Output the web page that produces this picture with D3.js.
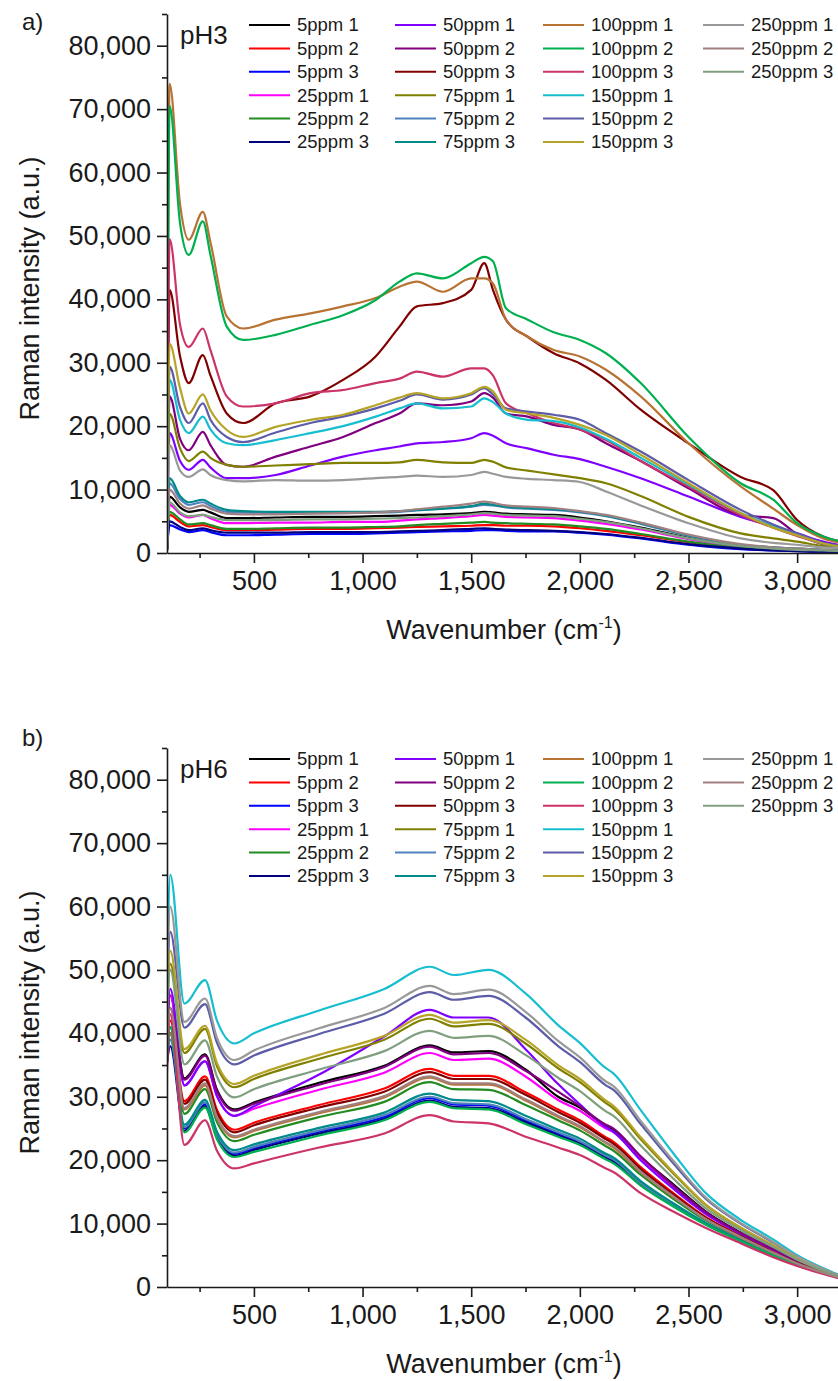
<!DOCTYPE html>
<html>
<head>
<meta charset="utf-8">
<script src="https://cdn.jsdelivr.net/npm/d3@7"></script>
<style>
  body { margin: 0; background: #fff; }
  svg text { font-family: "Liberation Sans", Arial, sans-serif; fill: #1a1a1a; }
</style>
</head>
<body>
<svg id="chart" width="838" height="1381"></svg>
<script>
// series names, in legend order (column by column)
var seriesNames = [
	"5ppm 1", "5ppm 2", "5ppm 3", "25ppm 1", "25ppm 2", "25ppm 3",
	"50ppm 1", "50ppm 2", "50ppm 3", "75ppm 1", "75ppm 2", "75ppm 3",
	"100ppm 1", "100ppm 2", "100ppm 3", "150ppm 1", "150ppm 2", "150ppm 3",
	"250ppm 1", "250ppm 2", "250ppm 3"
];
var seriesColors = [
	"#000000", "#ff0000", "#0000ff", "#ff00ff", "#228b22", "#000080",
	"#8000ff", "#800080", "#800000", "#808000", "#4f81bd", "#008b8b",
	"#b87333", "#00b050", "#cc3366", "#17becf", "#5c5ca8", "#b5a428",
	"#999999", "#a08080", "#7f9f7f"
];

// wavenumber (cm-1) sample points
var wavenumbersA = [100, 112, 160, 200, 265, 300, 375, 450, 600, 760, 910, 1060, 1170, 1250, 1370,
	1500, 1560, 1600, 1660, 1760, 1880, 2000, 2120, 2280, 2500, 2740, 2890, 3000, 3120, 3200];
var wavenumbersB = [100, 115, 180, 275, 330, 410, 500, 800, 1100, 1310, 1420, 1580, 1750, 1900,
	2000, 2120, 2150, 2280, 2430, 2580, 2740, 2890, 3000, 3200];

// Raman intensity, in thousands a.u. (pH3)
var intensityPH3 = [
	[0.5, 8.9, 7.2, 6.5, 6.8, 6.4, 5.5, 5.5, 5.6, 5.7, 5.7, 5.8, 5.9, 6, 6.1, 6.3, 6.5, 6.4, 6.2, 6.1, 6, 5.6, 5, 4, 2.4, 1.1, 0.7, 0.5, 0.4, 0.3],
	[0.5, 6, 4.9, 4.2, 4.4, 4.1, 3.6, 3.6, 3.7, 3.8, 3.8, 3.9, 4, 4.1, 4.2, 4.3, 4.4, 4.4, 4.3, 4.3, 4.2, 3.9, 3.5, 2.8, 1.7, 0.8, 0.5, 0.4, 0.3, 0.2],
	[0.5, 4.4, 3.7, 3.3, 3.6, 3.3, 2.8, 2.8, 2.9, 3, 3, 3.1, 3.2, 3.3, 3.4, 3.5, 3.6, 3.6, 3.5, 3.4, 3.4, 3.2, 2.9, 2.3, 1.3, 0.6, 0.4, 0.3, 0.2, 0.2],
	[0.5, 7.6, 6.2, 5.6, 6, 5.5, 4.7, 4.7, 4.8, 4.8, 4.9, 4.9, 5.1, 5.3, 5.5, 5.8, 6, 5.9, 5.7, 5.6, 5.5, 5.1, 4.6, 3.7, 2.2, 1, 0.7, 0.5, 0.4, 0.3],
	[0.5, 6.5, 5.3, 4.5, 4.7, 4.4, 3.8, 3.8, 3.9, 4, 4, 4.1, 4.2, 4.4, 4.6, 4.8, 4.9, 4.8, 4.7, 4.6, 4.5, 4.2, 3.8, 3, 1.8, 0.8, 0.5, 0.4, 0.3, 0.2],
	[0.5, 5, 4.1, 3.6, 3.9, 3.6, 3.2, 3.2, 3.2, 3.3, 3.3, 3.3, 3.4, 3.5, 3.6, 3.8, 3.9, 3.8, 3.7, 3.6, 3.5, 3.3, 3, 2.4, 1.4, 0.7, 0.4, 0.3, 0.2, 0.2],
	[1, 18.9, 14.5, 13.1, 14.7, 13.5, 11.8, 11.8, 12.3, 13.8, 15.2, 16.2, 16.8, 17.3, 17.5, 18.1, 18.9, 18.5, 17.3, 16.5, 15.5, 14.8, 13.6, 11.8, 8.9, 5.7, 4.2, 3.1, 1.8, 1.2],
	[1, 24.7, 18, 16.2, 19.1, 17, 13.9, 13.6, 15.2, 16.8, 18.3, 20.5, 22, 23.6, 23.3, 23.9, 25.2, 24.5, 22, 21.5, 20.2, 19.5, 17.3, 14.5, 10.2, 6, 5.5, 3, 1.4, 1],
	[1, 41.5, 31, 26.8, 31.2, 28, 22, 20.5, 23.6, 24.7, 27.3, 31, 35.7, 38.9, 39.4, 41.5, 45.7, 41.5, 36.8, 34.1, 31.5, 29.9, 27.3, 22.6, 17.3, 12, 9.9, 5.2, 2.6, 1.8],
	[1, 22, 16.5, 14.5, 16, 15, 13.9, 13.6, 13.8, 14, 14.2, 14.2, 14.3, 14.7, 14.3, 14.2, 14.7, 14.4, 13.5, 13, 12.4, 11.8, 11, 9, 5.7, 3.1, 2.3, 1.8, 1.1, 0.9],
	[0.5, 11, 8.5, 7.6, 8, 7.4, 6.5, 6.4, 6.3, 6.3, 6.3, 6.4, 6.5, 6.7, 7, 7.3, 7.6, 7.5, 7.2, 7, 6.8, 6.4, 5.8, 4.6, 2.7, 1.3, 0.9, 0.7, 0.5, 0.4],
	[0.5, 11.8, 9, 8, 8.4, 7.8, 6.8, 6.6, 6.5, 6.5, 6.5, 6.5, 6.6, 6.8, 7, 7.4, 7.8, 7.6, 7.3, 7.1, 6.9, 6.5, 5.9, 4.7, 2.8, 1.3, 0.9, 0.7, 0.5, 0.4],
	[3, 74, 55, 49.4, 53.8, 49, 37.3, 35.4, 36.8, 37.8, 38.9, 40.2, 42, 42.8, 41.2, 43.3, 43.3, 42.5, 36.8, 34.1, 32, 31, 28.9, 24.7, 17.3, 10.5, 7, 4.4, 2.3, 1.6],
	[3, 70.5, 52, 47, 52.3, 47, 35.7, 33.6, 34.4, 36, 37.5, 39.9, 42.8, 44.1, 43.3, 45.7, 46.7, 46, 38.6, 36.8, 34.8, 33.6, 31.5, 26.8, 18.3, 11, 8.4, 4.7, 2.6, 1.8],
	[2, 49.5, 36, 32.5, 35.4, 32, 24.7, 23.1, 23.6, 25.2, 25.7, 26.8, 27.5, 28.6, 27.8, 29.1, 29.1, 28, 23.6, 22, 20.5, 19.5, 17.8, 14.5, 10.5, 6, 4, 2.7, 1.5, 1.1],
	[2, 27.3, 21, 18.9, 21.5, 19.5, 17.3, 17, 17.8, 18.9, 20, 21.5, 22.8, 23.6, 22.8, 23.1, 24.4, 23.8, 22, 21, 20.8, 19.8, 18, 15, 10.8, 6.3, 4.2, 2.9, 1.5, 1],
	[2, 29.4, 23, 20.5, 23.6, 21, 18.3, 17.5, 19, 20.5, 21.5, 22.8, 24, 25, 24.2, 25, 26, 25, 22.8, 22.3, 21.8, 21, 18.9, 16, 11.5, 6.8, 4.5, 3.1, 1.6, 1.1],
	[2, 33, 26, 22, 25, 22.5, 19.4, 18.3, 19.9, 21, 21.8, 23.3, 24.5, 25.2, 24.4, 25.2, 26.2, 25.5, 22.6, 22, 21.3, 20.2, 18.6, 15.5, 11, 6.3, 4, 2.8, 1.5, 1],
	[1, 17, 13, 12, 13.2, 12.3, 11.5, 11.3, 11.5, 11.4, 11.5, 11.8, 12, 12.2, 12, 12.3, 12.8, 12.5, 12, 11.7, 11.5, 11.2, 9.7, 7.5, 4.7, 2.3, 1.6, 1.3, 0.9, 0.8],
	[0.5, 10, 7.8, 7, 7.5, 7, 6.2, 6.1, 6.1, 6.2, 6.3, 6.4, 6.6, 6.9, 7.3, 7.8, 8.1, 7.9, 7.5, 7.3, 7.1, 6.6, 6, 4.8, 2.9, 1.4, 0.9, 0.7, 0.5, 0.4],
	[0.5, 8, 6.4, 5.8, 6, 5.7, 5.2, 5.2, 5.2, 5.3, 5.3, 5.4, 5.5, 5.6, 5.8, 6.1, 6.3, 6.2, 6, 5.9, 5.8, 5.4, 4.9, 3.9, 2.3, 1.1, 0.7, 0.5, 0.4, 0.3]
];

// Raman intensity, in thousands a.u. (pH6)
var intensityPH6 = [
	[40.6, 46, 32.9, 36.7, 31.1, 28, 29.1, 32.2, 34.9, 38.1, 37, 37.2, 34.3, 30, 28.3, 25.4, 24.9, 20.5, 16.2, 11.9, 8.6, 6, 4.1, 1.5],
	[38.3, 42, 29.3, 33.2, 27.9, 24.8, 25.9, 28.7, 31.3, 34.4, 33.3, 33.3, 30.7, 28, 26.3, 23.6, 23, 18.9, 14.8, 11, 8.1, 5.6, 3.8, 1.5],
	[35.6, 40, 25, 28.8, 23.9, 21, 21.9, 24.5, 26.8, 29.8, 28.8, 28.6, 26.3, 24.2, 22.8, 20.5, 20, 16.3, 13, 9.9, 7.3, 5, 3.5, 1.4],
	[39.9, 46, 31.8, 35.6, 30.1, 27, 28.1, 31.1, 33.8, 36.9, 35.8, 36, 33.2, 29.5, 27.8, 25, 24.5, 20.3, 15.8, 11.6, 8.5, 5.9, 4, 1.5],
	[37.1, 41, 27.3, 31.2, 26, 23, 24, 26.8, 29.2, 32.3, 31.2, 31.1, 28.7, 26.3, 24.7, 22.2, 21.6, 17.7, 13.9, 10.5, 7.7, 5.3, 3.7, 1.4],
	[35.4, 38, 24.6, 28.5, 23.6, 20.7, 21.6, 24.2, 26.5, 29.4, 28.4, 28.2, 26, 23.9, 22.6, 20.3, 19.8, 16.1, 12.8, 9.9, 7.3, 5, 3.5, 1.4],
	[40, 47, 31.8, 35.6, 30.1, 27, 28.5, 33.5, 39.5, 43.7, 42.5, 42.5, 37.5, 32, 28.8, 25.2, 24.6, 20, 15.5, 11.5, 8.4, 5.9, 4, 1.5],
	[40.4, 44, 32.7, 36.5, 30.9, 27.8, 28.9, 31.9, 34.7, 37.9, 36.7, 36.9, 34.1, 30.8, 28.5, 25.6, 25.1, 20.6, 16, 11.8, 8.5, 6, 4.1, 1.5],
	[38.1, 41, 28.9, 32.7, 27.5, 24.4, 25.5, 28.3, 30.8, 33.9, 32.8, 32.8, 30.3, 27.6, 25.9, 23.3, 22.7, 18.6, 14.6, 10.9, 8, 5.5, 3.8, 1.5],
	[43.1, 51, 36.9, 40.7, 34.8, 31.5, 32.8, 36, 39, 42.3, 41.1, 41.5, 38.4, 34.5, 32.3, 29, 28.3, 23.3, 17.9, 12.9, 9.3, 6.5, 4.4, 1.6],
	[35.8, 39, 25.2, 29.1, 24.1, 21.2, 22.1, 24.7, 27.1, 30, 29, 28.8, 26.5, 24.4, 23, 20.7, 20.2, 16.4, 13, 10, 7.4, 5.1, 3.5, 1.4],
	[36, 40, 25.6, 29.5, 24.5, 21.6, 22.5, 25.1, 27.5, 30.5, 29.5, 29.3, 27, 24.8, 23.4, 21, 20.5, 16.7, 13.2, 10.1, 7.4, 5.1, 3.6, 1.4],
	[37.5, 40, 28, 31.8, 26.6, 23.6, 24.6, 27.4, 29.9, 33, 31.9, 31.9, 29.4, 26.8, 25.2, 22.7, 22.1, 18.1, 14.2, 10.7, 7.8, 5.4, 3.7, 1.4],
	[35.3, 41, 24.4, 28.3, 23.3, 20.5, 21.3, 23.9, 26.3, 29.2, 28.2, 28, 25.7, 23.7, 22.4, 20.1, 19.6, 16, 12.7, 9.8, 7.2, 5, 3.5, 1.4],
	[34, 43, 22.4, 26.3, 21.5, 18.7, 19.5, 22, 24.2, 27.1, 26.1, 25.8, 23.7, 22, 20.8, 18.7, 18.2, 14.8, 11.9, 9.3, 6.9, 4.7, 3.3, 1.3],
	[48, 65, 44.7, 48.4, 42, 38.4, 40, 43.6, 47, 50.5, 49.2, 50, 46.3, 41.3, 38.5, 34.5, 33.8, 27.9, 21.1, 14.8, 10.6, 7.5, 5, 1.8],
	[45.6, 56, 40.9, 44.6, 38.5, 35.1, 36.5, 39.9, 43.1, 46.5, 45.3, 45.9, 42.5, 38, 35.5, 31.8, 31.2, 25.7, 19.5, 13.9, 10, 7, 4.7, 1.7],
	[43.5, 53, 37.5, 41.2, 35.3, 32, 33.3, 36.6, 39.6, 42.9, 41.7, 42.1, 39, 35, 32.8, 29.4, 28.7, 23.6, 18.1, 13, 9.4, 6.6, 4.5, 1.6],
	[46.2, 60, 41.8, 45.5, 39.3, 35.8, 37.3, 40.8, 44, 47.5, 46.2, 46.9, 43.4, 38.8, 36.2, 32.4, 31.8, 26.2, 19.9, 14.1, 10.1, 7.1, 4.8, 1.7],
	[37.6, 44, 28.2, 32.1, 26.8, 23.8, 24.8, 27.6, 30.1, 33.2, 32.1, 32.1, 29.6, 27, 25.4, 22.8, 22.3, 18.2, 14.3, 10.7, 7.9, 5.4, 3.7, 1.4],
	[42, 50, 35.1, 38.9, 33.2, 29.9, 31.2, 34.3, 37.2, 40.4, 39.3, 39.6, 36.6, 33, 30.9, 27.7, 27.1, 22.3, 17.1, 12.4, 9, 6.3, 4.3, 1.6]
];

var xMajorTicks = [500, 1000, 1500, 2000, 2500, 3000];
var xMinorTicks = [250, 750, 1250, 1750, 2250, 2750];
var yMajorTicks = [0, 10, 20, 30, 40, 50, 60, 70, 80];
var yMinorTicks = [5, 15, 25, 35, 45, 55, 65, 75, 85];

var panels = [
	{ tag: "a)", ph: "pH3", wn: wavenumbersA, values: intensityPH3, bottom: 553, tagY: 30 },
	{ tag: "b)", ph: "pH6", wn: wavenumbersB, values: intensityPH6, bottom: 1287, tagY: 746 }
];

var svg = d3.select("#chart");
var plotLeft = 167, plotHeight = 539;

var x = d3.scaleLinear().domain([100, 3200]).range([plotLeft, 840.6]);

panels.forEach(function(p, pi) {
	var top = p.bottom - plotHeight;
	var y = d3.scaleLinear().domain([0, 85]).range([p.bottom, top]);
	var g = svg.append("g").classed("panel", true);

	g.append("clipPath").attr("id", "clip" + pi)
		.append("rect")
		.attr("x", plotLeft).attr("y", top - 5)
		.attr("width", 838 - plotLeft).attr("height", plotHeight + 5);

	/*
	spectra
	*/
	var line = d3.line()
		.x(function(d) { return x(d[0]); })
		.y(function(d) { return y(d[1]); })
		.curve(d3.curveMonotoneX);

	g.append("g").attr("clip-path", "url(#clip" + pi + ")")
		.selectAll("path")
		.data(p.values).enter().append("path")
		.attr("fill", "none")
		.attr("stroke", function(d, i) { return seriesColors[i]; })
		.attr("stroke-width", 2.2)
		.attr("stroke-linejoin", "round")
		.attr("d", function(vals) {
			return line(vals.map(function(v, j) { return [p.wn[j], v]; }));
		});

	/*
	axes
	*/
	g.append("g")
		.attr("transform", "translate(0," + p.bottom + ")")
		.call(d3.axisBottom(x).tickValues(xMajorTicks).tickSize(10).tickSizeOuter(0)
			.tickPadding(8).tickFormat(d3.format(",")));
	g.append("g")
		.attr("transform", "translate(0," + p.bottom + ")")
		.call(d3.axisBottom(x).tickValues(xMinorTicks).tickSize(5).tickFormat(""))
		.select(".domain").remove();

	g.append("g")
		.attr("transform", "translate(" + plotLeft + ",0)")
		.call(d3.axisLeft(y).tickValues(yMajorTicks).tickSize(10).tickSizeOuter(0)
			.tickPadding(6).tickFormat(function(d) { return d3.format(",")(d * 1000); }));
	g.append("g")
		.attr("transform", "translate(" + plotLeft + ",0)")
		.call(d3.axisLeft(y).tickValues(yMinorTicks).tickSize(5).tickFormat(""))
		.select(".domain").remove();

	g.selectAll(".domain, .tick line").attr("stroke", "#1a1a1a").attr("stroke-width", 1.6);
	g.selectAll(".tick text").attr("font-size", 27).attr("fill", "#1a1a1a")
		.style("font-family", "'Liberation Sans', Arial, sans-serif");

	// axis titles
	var xt = g.append("text")
		.attr("x", 504).attr("y", p.bottom + 86)
		.attr("text-anchor", "middle").attr("font-size", 27)
		.text("Wavenumber (cm");
	xt.append("tspan").attr("font-size", 16).attr("dy", -11).text("-1");
	xt.append("tspan").attr("dy", 11).text(")");

	g.append("text")
		.attr("transform", "translate(39," + (p.bottom - plotHeight / 2 + 5) + ") rotate(-90)")
		.attr("text-anchor", "middle").attr("font-size", 27)
		.text("Raman intensity (a.u.)");

	g.append("text")
		.attr("x", 22).attr("y", p.tagY)
		.attr("font-size", 24)
		.text(p.tag);

	g.append("text")
		.attr("x", 180).attr("y", top + 21)
		.attr("dy", "0.35em")
		.attr("font-size", 26)
		.text(p.ph);

	/*
	legend
	*/
	var colX = [249, 395, 543, 703];
	var item = g.append("g").classed("legend", true)
		.selectAll("g")
		.data(seriesNames).enter().append("g")
		.attr("transform", function(d, i) {
			var col = Math.floor(i / 6), row = i % 6;
			return "translate(" + colX[col] + "," + (top + 11 + row * 23.4) + ")";
		});
	item.append("line")
		.attr("x1", 0).attr("x2", 41)
		.attr("stroke", function(d, i) { return seriesColors[i]; })
		.attr("stroke-width", 2);
	item.append("text")
		.attr("x", 48).attr("dy", "0.35em")
		.attr("font-size", 18.5)
		.text(function(d) { return d; });
});
</script>
</body>
</html>
